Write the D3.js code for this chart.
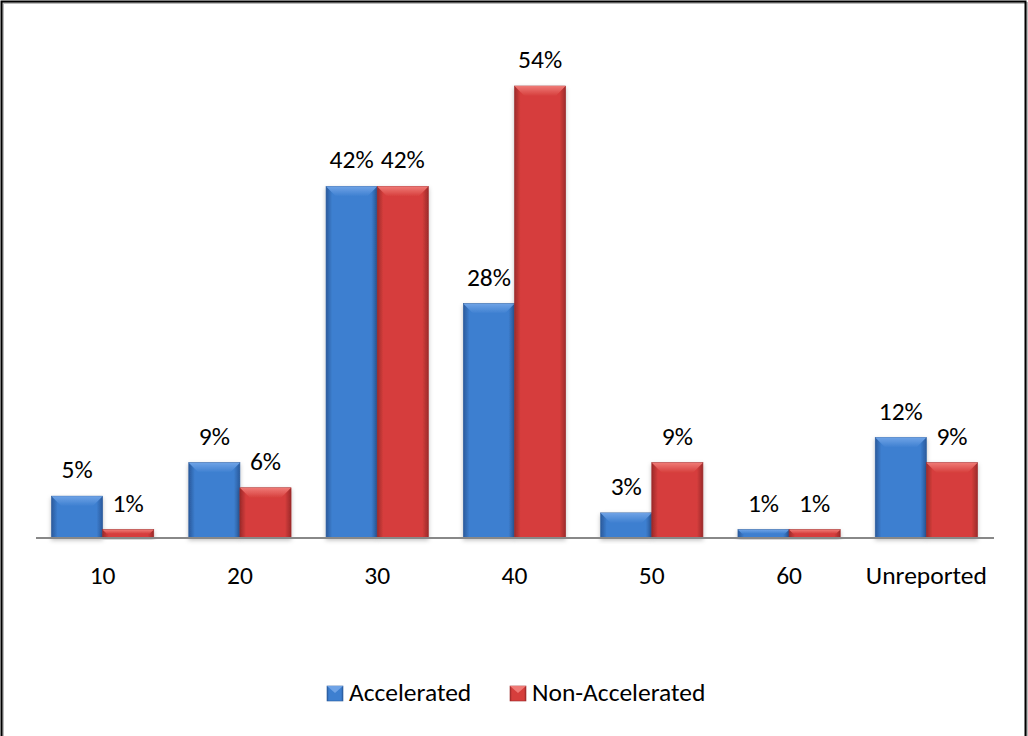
<!DOCTYPE html>
<html>
<head>
<meta charset="utf-8">
<script src="https://cdn.jsdelivr.net/npm/d3@7"></script>
<style>
body { margin: 0; background: #fff; }
text { font-family: Carlito, Calibri, Lato, sans-serif; fill: #000; }
</style>
</head>
<body>
<script>
const categories = ["10", "20", "30", "40", "50", "60", "Unreported"];
const accelerated = [5, 9, 42, 28, 3, 1, 12];
const nonAccelerated = [1, 6, 42, 54, 9, 1, 9];
const seriesNames = ["Accelerated", "Non-Accelerated"];

const W = 1028, H = 736;
const svg = d3.select("body").append("svg").attr("width", W).attr("height", H);

// frame with a soft shadow
svg.append("rect").attr("x", 3).attr("y", 3).attr("width", W - 4).attr("height", H)
  .attr("fill", "none").attr("stroke", "#bbb").attr("stroke-width", 2);
svg.append("rect").attr("x", 1.5).attr("y", 1.5).attr("width", W - 4).attr("height", H)
  .attr("fill", "none").attr("stroke", "#000").attr("stroke-width", 2);

const defs = svg.append("defs");
const colors = [
  { id: "blue", dark: "#2a5a9c", mid: "#3d7fd0", light: "#6fa3e6" },
  { id: "red", dark: "#9c2a2a", mid: "#d63e3c", light: "#ef7a76" }
];
colors.forEach(c => {
  const g = defs.append("linearGradient").attr("id", "g-" + c.id)
    .attr("x1", 0).attr("x2", 1).attr("y1", 0).attr("y2", 0);
  g.append("stop").attr("offset", 0).attr("stop-color", c.dark);
  g.append("stop").attr("offset", 0.12).attr("stop-color", c.mid);
  g.append("stop").attr("offset", 0.88).attr("stop-color", c.mid);
  g.append("stop").attr("offset", 1).attr("stop-color", c.dark);
  const t = defs.append("linearGradient").attr("id", "t-" + c.id)
    .attr("x1", 0).attr("x2", 0).attr("y1", 0).attr("y2", 1);
  t.append("stop").attr("offset", 0).attr("stop-color", c.light);
  t.append("stop").attr("offset", 1).attr("stop-color", c.mid);
});
const shadow = defs.append("filter").attr("id", "shadow")
  .attr("x", "-20%").attr("y", "-20%").attr("width", "140%").attr("height", "140%");
shadow.append("feDropShadow").attr("dx", 0).attr("dy", 2).attr("stdDeviation", 2)
  .attr("flood-color", "#000").attr("flood-opacity", 0.25);

const baseY = 538;
const x = d3.scaleBand().domain(categories).range([35, 994])
  .paddingInner(0.255).paddingOuter(0.12);
const xs = d3.scaleBand().domain(seriesNames).range([0, x.bandwidth()]);
const y = d3.scaleLinear().domain([0, 54]).range([baseY, 86]);

const data = [];
categories.forEach((c, i) => {
  data.push({ cat: c, s: 0, v: accelerated[i] });
  data.push({ cat: c, s: 1, v: nonAccelerated[i] });
});

const bars = svg.append("g").selectAll("g").data(data).enter().append("g")
  .attr("filter", "url(#shadow)");
bars.append("rect")
  .attr("x", d => x(d.cat) + xs(seriesNames[d.s]))
  .attr("y", d => y(d.v))
  .attr("width", xs.bandwidth())
  .attr("height", d => baseY - y(d.v))
  .attr("fill", d => `url(#g-${colors[d.s].id})`)
  .attr("stroke", d => colors[d.s].dark).attr("stroke-width", 0.6);
// top bevel
bars.append("path")
  .attr("d", d => {
    const x0 = x(d.cat) + xs(seriesNames[d.s]), w = xs.bandwidth();
    const h = Math.min(10, (baseY - y(d.v)) / 2), t = y(d.v);
    return `M${x0},${t}L${x0 + w},${t}L${x0 + w - h},${t + h}L${x0 + h},${t + h}Z`;
  })
  .attr("fill", d => `url(#t-${colors[d.s].id})`);

// axis line
svg.append("line").attr("x1", 36).attr("x2", 994).attr("y1", baseY).attr("y2", baseY)
  .attr("stroke", "#888").attr("stroke-width", 2);

// category labels
svg.append("g").selectAll("text").data(categories).enter().append("text")
  .attr("x", d => x(d) + x.bandwidth() / 2)
  .attr("y", 584)
  .attr("text-anchor", "middle").attr("font-size", 25.5)
  .text(d => d);

// value labels
svg.append("g").selectAll("text").data(data).enter().append("text")
  .attr("x", d => x(d.cat) + xs(seriesNames[d.s]) + xs.bandwidth() / 2)
  .attr("y", d => y(d.v) - 18)
  .attr("text-anchor", "middle").attr("font-size", 25.5)
  .text(d => d.v + "%");

// legend
const legend = svg.append("g");
const legendX = [327, 510];
seriesNames.forEach((n, i) => {
  const c = colors[i];
  legend.append("rect").attr("x", legendX[i]).attr("y", 686).attr("width", 16).attr("height", 15)
    .attr("fill", `url(#g-${c.id})`).attr("stroke", c.dark).attr("stroke-width", 0.6);
  legend.append("path")
    .attr("d", `M${legendX[i]},686L${legendX[i] + 16},686L${legendX[i] + 8},693Z`)
    .attr("fill", c.light);
  legend.append("text").attr("x", legendX[i] + 22).attr("y", 701).attr("font-size", 25.5).text(n);
});
</script>
</body>
</html>
